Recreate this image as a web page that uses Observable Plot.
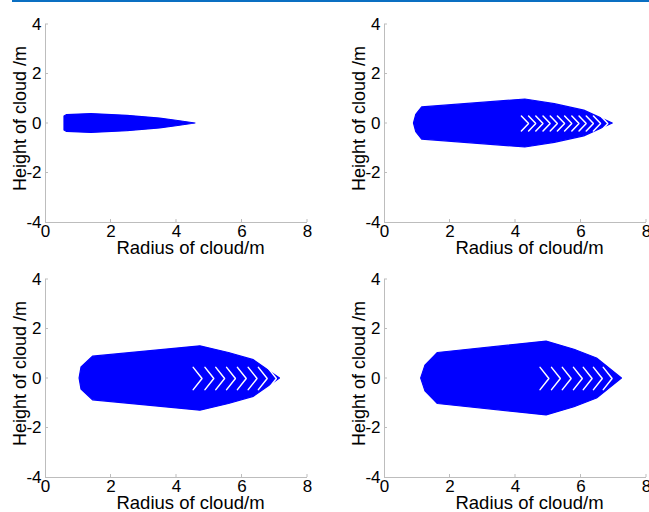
<!DOCTYPE html>
<html>
<head>
<meta charset="utf-8">
<script src="https://cdn.jsdelivr.net/npm/d3@7"></script>
<script src="https://cdn.jsdelivr.net/npm/@observablehq/plot@0.6"></script>
<style>
  html, body { margin: 0; padding: 0; background: #fff; }
  #wrap { position: relative; width: 649px; height: 512px; overflow: hidden; background: #fff; }
  #topline { position: absolute; left: 12px; right: 0; top: 0; height: 2px; background: #0a6fc2; }
  .panel { position: absolute; }
</style>
</head>
<body>
<div id="wrap"><div id="topline"></div></div>
<script>
// ---- axis ticks and labels ----
const xTicks = [0, 2, 4, 6, 8];
const yTicks = [-4, -2, 0, 2, 4];
const xLabel = "Radius of cloud/m";
const yLabel = "Height of cloud /m";

// ---- cloud outlines: radius (m) and upper half-height (m); lower half mirrors it ----
const cloud1R = [0.58, 0.58, 0.66, 1.40, 2.50, 3.50, 4.00, 4.58];
const cloud1H = [0.00, 0.28, 0.34, 0.38, 0.31, 0.20, 0.11, 0.00];

const cloud2R = [0.90, 0.97, 1.15, 4.30, 5.20, 6.10, 6.97];
const cloud2H = [0.00, 0.35, 0.65, 0.97, 0.78, 0.52, 0.00];

const cloud3R = [1.04, 1.10, 1.45, 4.73, 5.60, 6.36, 7.16];
const cloud3H = [0.00, 0.45, 0.88, 1.30, 1.03, 0.74, 0.00];

const cloud4R = [1.12, 1.25, 1.63, 4.95, 5.80, 6.49, 7.25];
const cloud4H = [0.00, 0.52, 1.03, 1.49, 1.16, 0.81, 0.00];

// ---- white chevron gaps (apex radius of each chevron) ----
const chev1 = [];
const chev2 = [4.40, 4.62, 4.84, 5.06, 5.28, 5.50, 5.72, 5.94, 6.16, 6.38, 6.60, 6.82];
const chev3 = [4.78, 5.14, 5.47, 5.80, 6.13, 6.46, 6.77, 7.05];
const chev4 = [5.02, 5.37, 5.70, 6.04, 6.34, 6.65, 6.95];
const chevArm1 = [0, 0], chevArm2 = [0.22, 0.30], chevArm3 = [0.27, 0.45], chevArm4 = [0.27, 0.45];

const panels = [
  {left: 0,   top: 0,   R: cloud1R, H: cloud1H, chev: chev1, arm: chevArm1},
  {left: 339, top: 0,   R: cloud2R, H: cloud2H, chev: chev2, arm: chevArm2},
  {left: 0,   top: 255, R: cloud3R, H: cloud3H, chev: chev3, arm: chevArm3},
  {left: 339, top: 255, R: cloud4R, H: cloud4H, chev: chev4, arm: chevArm4}
];

const AXIS = "#bdbdbd";
const FONT = "'Liberation Sans', Arial, sans-serif";

function inwardTicks(index, scales) {
  const g = d3.create("svg:g").attr("stroke", AXIS).attr("stroke-width", 1);
  const y0 = scales.y(-4), x0 = scales.x(0);
  for (const t of xTicks) {
    if (t === 0) continue;
    g.append("line").attr("x1", scales.x(t)).attr("x2", scales.x(t)).attr("y1", y0).attr("y2", y0 - 3);
  }
  for (const t of yTicks) {
    if (t === -4) continue;
    g.append("line").attr("x1", x0).attr("x2", x0 + 3).attr("y1", scales.y(t)).attr("y2", scales.y(t));
  }
  return g.node();
}

const wrap = document.getElementById("wrap");
for (const p of panels) {
  const cloud = p.R.map((r, i) => ({r, h: p.H[i]}));
  const chevPts = [];
  p.chev.forEach((a, k) => {
    chevPts.push({x: a - p.arm[0], y: p.arm[1], k});
    chevPts.push({x: a, y: 0, k});
    chevPts.push({x: a - p.arm[0], y: -p.arm[1], k});
  });
  const chart = Plot.plot({
    width: 320,
    height: 255,
    marginLeft: 45,
    marginRight: 13,
    marginTop: 24,
    marginBottom: 33,
    style: {fontFamily: FONT, fontSize: "15px", color: "#000", background: "transparent", overflow: "visible"},
    x: {domain: [0, 8]},
    y: {domain: [-4, 4]},
    marks: [
      Plot.areaY(cloud, {x: "r", y1: d => -d.h, y2: "h", fill: "#0000ff", stroke: "#0000ff", strokeWidth: 1.2}),
      Plot.line(chevPts, {x: "x", y: "y", z: "k", stroke: "white", strokeWidth: 1.5, strokeLinejoin: "miter"}),
      Plot.ruleY([-4], {stroke: AXIS}),
      Plot.ruleX([0], {stroke: AXIS}),
      inwardTicks,
      Plot.axisX({ticks: xTicks, tickSize: 0, tickPadding: 2, tickFormat: d => String(d), fontSize: 17, label: null}),
      Plot.axisY({ticks: yTicks, tickSize: 0, tickPadding: 4, tickFormat: d => String(d), fontSize: 17, label: null}),
      Plot.text([xLabel], {text: d => d, frameAnchor: "bottom", textAnchor: "middle", lineAnchor: "middle", dx: 14, dy: 26, fontSize: 18.5}),
      Plot.text([yLabel], {text: d => d, frameAnchor: "left", textAnchor: "middle", lineAnchor: "middle", rotate: -90, dx: -25, dy: -5, fontSize: 18})
    ]
  });
  chart.classList.add("panel");
  chart.style.left = p.left + "px";
  chart.style.top = p.top + "px";
  wrap.appendChild(chart);
}
</script>
</body>
</html>
